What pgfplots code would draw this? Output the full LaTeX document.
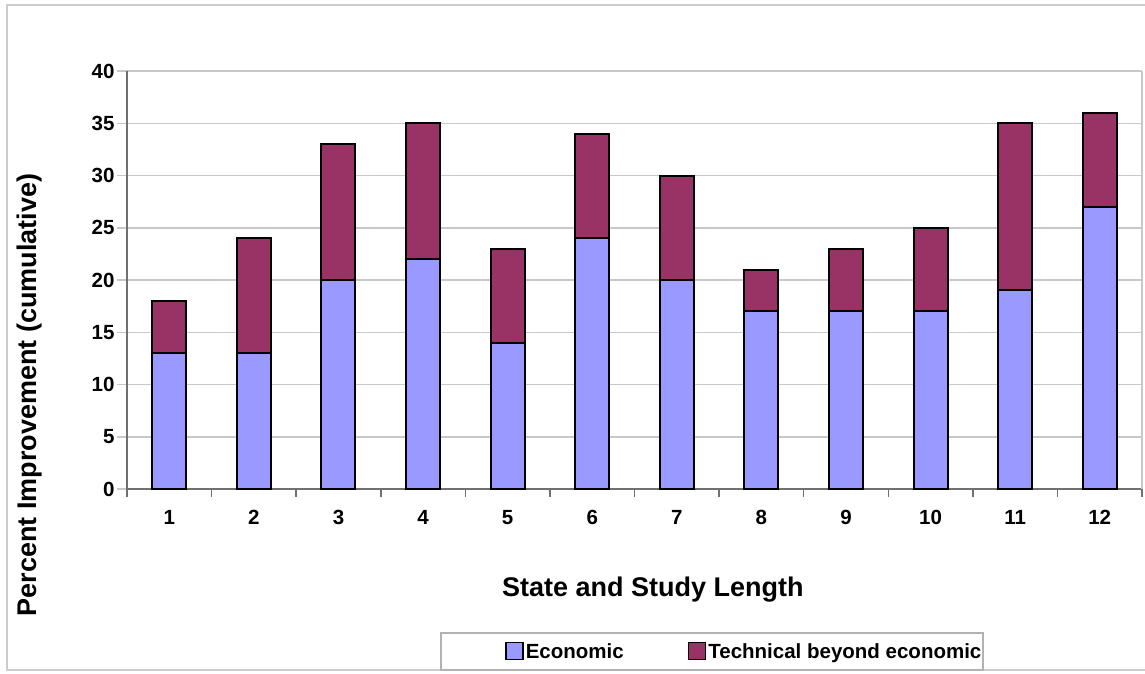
\documentclass[border=0pt]{standalone}
\usepackage{fontspec}
\setmainfont{Liberation Sans}
\usepackage{pgfplots}
\pgfplotsset{compat=1.18}
\definecolor{econ}{HTML}{9999FF}
\definecolor{tech}{HTML}{993366}
\definecolor{gridc}{HTML}{C8C8C8}
\definecolor{axc}{HTML}{707070}
\begin{document}
\begin{tikzpicture}
\path[use as bounding box] (0,0) rectangle (1145pt,673pt);
\draw[color=gray!40,line width=1.2pt] (7pt,3pt) rectangle (1150pt,668pt);
\begin{axis}[
  at={(127pt,184pt)}, anchor=south west,
  scale only axis, width=1015pt, height=418pt,
  ybar stacked, bar width=34pt,
  xmin=0.5, xmax=12.5, ymin=0, ymax=40,
  xtick={1,...,12}, major x tick style={draw=none},
  minor xtick={0.5,1.5,...,12.5},
  minor x tick style={draw=axc,line width=1.5pt},
  minor tick length=8pt,
  ytick={0,5,...,40},
  ytick style={draw=gridc,line width=1.5pt},
  major tick length=10pt,
  tick align=outside,
  xtick pos=bottom, ytick pos=left,
  ymajorgrids, grid style={draw=gridc,line width=1.5pt},
  axis line style={draw=none},
  /pgf/number format/assume math mode=true,
  tick label style={font=\fontsize{20.5}{22}\selectfont\bfseries},
  xticklabel style={yshift=-8pt},
  yticklabel style={xshift=1pt},
  xlabel={State and Study Length},
  ylabel={Percent Improvement (cumulative)},
  label style={font=\fontsize{27}{30}\selectfont\bfseries},
  xlabel style={at={(axis description cs:0.518,-0.2416)},anchor=center},
  ylabel style={at={(axis description cs:-0.0956,0.225)},anchor=center},
  legend style={at={(axis description cs:0.3724,-0.3888)},anchor=west,draw=none,fill=none,
    font=\fontsize{20.5}{22}\selectfont\bfseries, inner xsep=0pt, inner ysep=0pt},
  legend columns=2,
  legend image code/.code={\draw[#1,draw=black,line width=1.6pt] (0pt,-8pt) rectangle (17pt,9pt);},
  /tikz/every even column/.append style={column sep=62pt},
  every axis plot/.append style={draw=black,line width=2pt},
  clip=false,
]
\draw[gridc,line width=1.5pt] (rel axis cs:1,0) -- (rel axis cs:1,1);
\addplot[fill=econ] coordinates {(1,13) (2,13) (3,20) (4,22) (5,14) (6,24) (7,20) (8,17) (9,17) (10,17) (11,19) (12,27)};
\addplot[fill=tech] coordinates {(1,5) (2,11) (3,13) (4,13) (5,9) (6,10) (7,10) (8,4) (9,6) (10,8) (11,16) (12,9)};
\legend{Economic,Technical beyond economic}
\draw[axc,line width=1.8pt] (rel axis cs:0,1) -- (rel axis cs:0,0) -- (rel axis cs:1,0);
\draw[gray!60,line width=1.2pt] (axis description cs:0.3094,-0.3445) rectangle (axis description cs:0.8433,-0.4330);
\end{axis}
\end{tikzpicture}
\end{document}
